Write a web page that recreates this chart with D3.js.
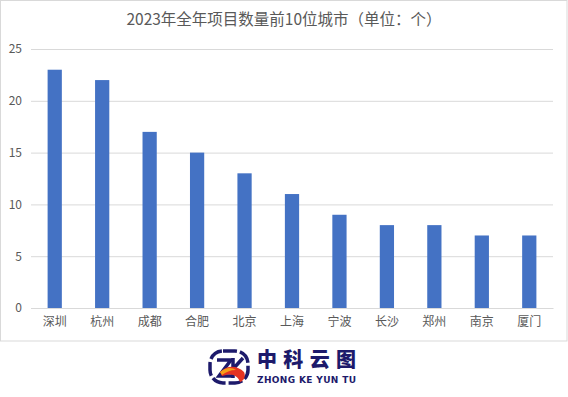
<!DOCTYPE html>
<html><head><meta charset="utf-8">
<script src="https://cdn.jsdelivr.net/npm/d3@7"></script>
<style>body{margin:0;background:#fff}svg{display:block}</style>
</head><body>
<script>
const title = "2023年全年项目数量前10位城市（单位：个）";
const cities = ["深圳","杭州","成都","合肥","北京","上海","宁波","长沙","郑州","南京","厦门"];
const counts = [23,22,17,15,13,11,9,8,8,7,7];
const yTicks = [0,5,10,15,20,25];

const W=568,H=397;
const svg=d3.select("body").append("svg").attr("width",W).attr("height",H);
const font="'Noto Sans CJK SC','Microsoft YaHei',sans-serif";

svg.append("rect").attr("x",0.5).attr("y",0.5).attr("width",W-1.5).attr("height",340.5)
  .attr("fill","#fff").attr("stroke","#d9d9d9");

const x=d3.scaleBand().domain(cities).range([31,553]).paddingInner(0.7).paddingOuter(0.35);
const y=d3.scaleLinear().domain([0,25]).range([308,49]);

const ya=svg.append("g").attr("transform","translate(31,0)")
  .call(d3.axisLeft(y).tickValues(yTicks).tickSize(-522).tickPadding(9));
ya.select(".domain").remove();
ya.selectAll(".tick line").attr("stroke","#d9d9d9");
ya.selectAll(".tick text").attr("fill","#595959").attr("font-size",12).attr("font-family",font);

svg.append("g").selectAll("rect").data(cities).join("rect")
  .attr("x",d=>x(d)).attr("width",x.bandwidth())
  .attr("y",(d,i)=>y(counts[i])).attr("height",(d,i)=>y(0)-y(counts[i]))
  .attr("fill","#4472C4");

const xa=svg.append("g").attr("transform","translate(0,308)")
  .call(d3.axisBottom(x).tickSize(0).tickPadding(9));
xa.select(".domain").attr("stroke","#d9d9d9");
xa.selectAll(".tick text").attr("fill","#595959").attr("font-size",12).attr("font-family",font);

svg.append("text").attr("x",284).attr("y",25).attr("text-anchor","middle")
  .attr("font-size",15.5).attr("fill","#595959").attr("font-family",font).text(title);

// logo
const g=svg.append("g");
const navy="#1d1a6b";
g.append("rect").attr("x",210).attr("y",351).attr("width",38).attr("height",32).attr("rx",13)
  .attr("fill","none").attr("stroke",navy).attr("stroke-width",3.5).attr("stroke-dasharray","14 3");
g.append("path").attr("d","M217,360 L231,360 L219,376 L233,376").attr("fill","none").attr("stroke",navy).attr("stroke-width",3.5);
g.append("path").attr("d","M233,358 L233,378 M243,358 L233,369").attr("fill","none").attr("stroke",navy).attr("stroke-width",3.5);
g.append("path").attr("d","M220,372 C228,364 238,366 244,372 C246,376 244,381 240,382 C238,376 232,372 222,376 Z").attr("fill","#e53322");
g.append("path").attr("d","M220,372 C226,367 232,367 236,370 C230,370 226,372 222,375 Z").attr("fill","#f5a01a");
g.append("text").attr("x",257).attr("y",367).attr("font-size",20).attr("font-weight",900)
  .attr("fill",navy).attr("font-family",font).attr("textLength",99).text("中科云图");
g.append("text").attr("x",257).attr("y",382.5).attr("font-size",9).attr("font-weight",700)
  .attr("fill",navy).attr("font-family","'DejaVu Sans',sans-serif").attr("textLength",99).text("ZHONG KE YUN TU");
</script>
</body></html>
